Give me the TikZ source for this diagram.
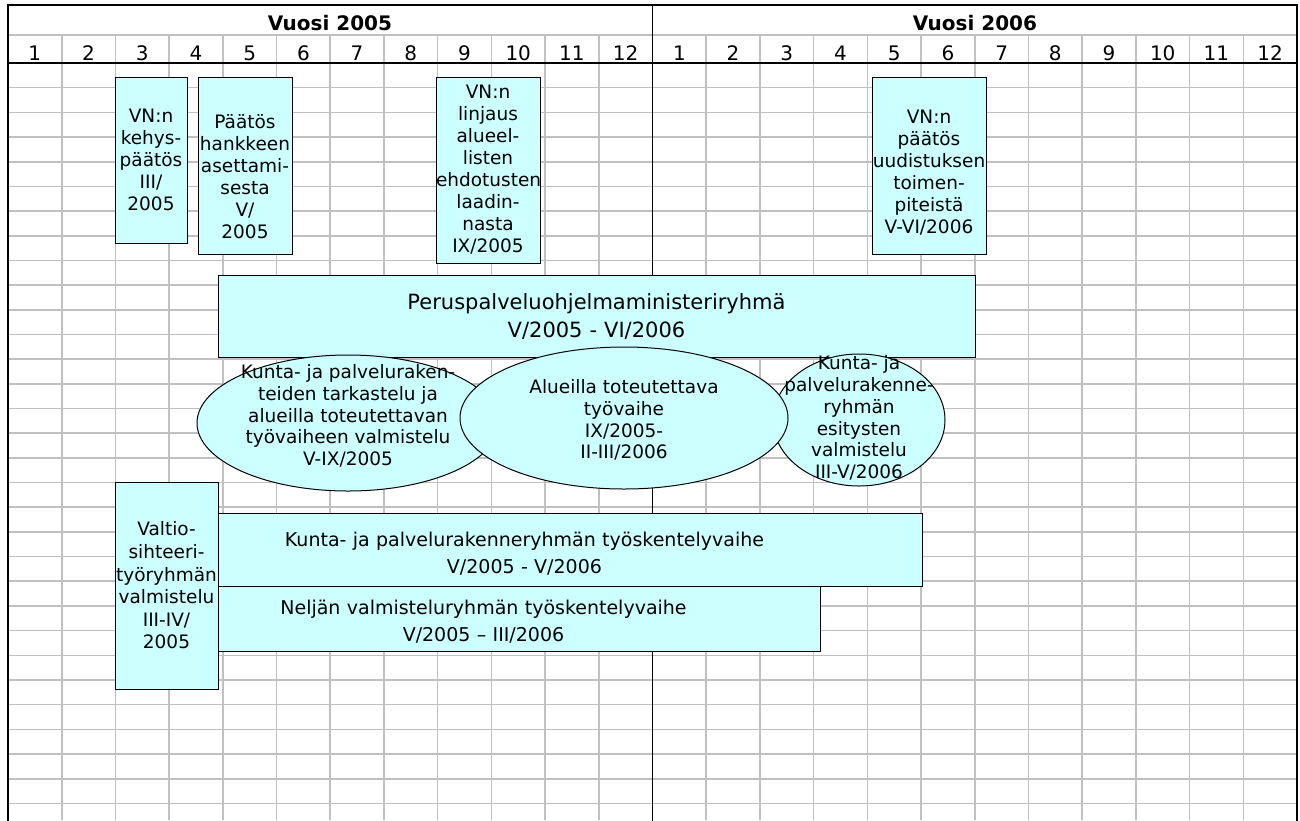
\documentclass[tikz,border=0pt]{standalone}
\usepackage{fontspec}
\setmainfont{DejaVu Sans}
\usetikzlibrary{shapes.geometric}
\definecolor{boxc}{HTML}{CCFFFF}
\definecolor{gridc}{HTML}{C0C0C0}
\begin{document}
\begin{tikzpicture}[x=1pt,y=-1pt,
  gridline/.style={draw=gridc, line width=1.6pt},
  frameline/.style={draw=black, line width=1.8pt, line cap=rect},
  boxstyle/.style={draw=black, line width=1pt, fill=boxc, inner sep=0pt, align=center, font=\fontsize{18.5}{22}\selectfont},
  widebox/.style={boxstyle, font=\fontsize{19}{27}\selectfont},
  ellstyle/.style={ellipse, draw=black, line width=1pt, fill=boxc, inner sep=0pt},
  elltext/.style={align=center, font=\fontsize{18.5}{21.7}\selectfont, inner sep=0pt},
  yearlabel/.style={font=\bfseries\fontsize{20}{24}\selectfont, anchor=base, inner sep=0pt},
  monthlabel/.style={font=\fontsize{20}{22}\selectfont, anchor=base, inner sep=0pt},
]
\useasboundingbox (0,0) rectangle (1300,820);
\fill[white] (0,0) rectangle (1300,820);
% grid
\draw[gridline] (8,35) -- (1297,35);
\foreach \k in {1,...,30} \draw[gridline] (8,{63+24.68*\k}) -- (1297,{63+24.68*\k});
\foreach \k in {1,...,11,13,14,...,23} \draw[gridline] ({8+53.7083*\k},35) -- ({8+53.7083*\k},820);
% frame
\draw[frameline] (8,5) -- (1297,5);
\draw[frameline] (8,63) -- (1297,63);
\draw[frameline] (8,5) -- (8,820);
\draw[frameline] (1297,5) -- (1297,820);
\draw[frameline] (652.5,5) -- (652.5,820);
% headers
\node[yearlabel] (y2005) at (330,30) {Vuosi 2005};
\node[yearlabel] (y2006) at (975,30) {Vuosi 2006};
\foreach \k in {1,...,12} {
  \node[monthlabel] (a\k) at ({8+53.7083*(\k-0.5)},60) {\k};
  \node[monthlabel] (b\k) at ({652.5+53.7083*(\k-0.5)},60) {\k};
}
% top boxes
\node[boxstyle, text width=72pt, minimum height=166pt] (kehys) at (151,160)
  {VN:n\\kehys-\\päätös\\III/\\2005};
\node[boxstyle, text width=94pt, minimum height=177pt] (asett) at (245,165.5)
  {\mbox{}\\[14pt]Päätös\\hankkeen\\asettami-\\sesta\\V/\\2005};
\node[boxstyle, text width=104pt, minimum height=186pt] (linjaus) at (488,170)
  {VN:n\\linjaus\\alueel-\\listen\\ehdotusten\\laadin-\\nasta\\IX/2005};
\node[boxstyle, text width=114pt, minimum height=177pt] (uudist) at (929,165.5)
  {\mbox{}\\[6.5pt]VN:n\\päätös\\uudistuksen\\toimen-\\piteistä\\V-VI/2006};
% ministerial group
\node[boxstyle, font=\fontsize{21}{28}\selectfont, text width=757pt, minimum height=82pt] (perus) at (596.5,316)
  {Peruspalveluohjelmaministeriryhmä\\V/2005 - VI/2006};
% ellipses
\node[ellstyle, minimum width=302pt, minimum height=136pt,
  label={[elltext, yshift=7pt]center:{Kunta- ja palveluraken-\\teiden tarkastelu ja\\alueilla toteutettavan\\työvaiheen valmistelu\\V-IX/2005}}] (ell1) at (348,423) {};
\node[ellstyle, minimum width=172pt, minimum height=132pt,
  label={[elltext, yshift=2pt]center:{Kunta- ja\\palvelurakenne-\\ryhmän\\esitysten\\valmistelu\\III-V/2006}}] (ell3) at (859,420) {};
\node[ellstyle, minimum width=328pt, minimum height=142pt,
  label={[elltext, yshift=-2pt]center:{Alueilla toteutettava\\työvaihe\\IX/2005-\\II-III/2006}}] (ell2) at (624,418) {};
% lower boxes
\node[widebox, text width=795pt, minimum height=73pt] (kunta) at (524.5,549.5)
  {\mbox{}\\[-5pt]Kunta- ja palvelurakenneryhmän työskentelyvaihe\\V/2005 - V/2006};
\node[widebox, text width=673pt, minimum height=65pt] (neljan) at (483.5,618.5)
  {\mbox{}\\[-7pt]Neljän valmisteluryhmän työskentelyvaihe\\V/2005 – III/2006};
\node[boxstyle, font=\fontsize{18.5}{22.6}\selectfont, text width=103pt, minimum height=207pt] (valtio) at (166.5,585.5)
  {Valtio-\\sihteeri-\\työryhmän\\valmistelu\\III-IV/\\2005};
\end{tikzpicture}
\end{document}
